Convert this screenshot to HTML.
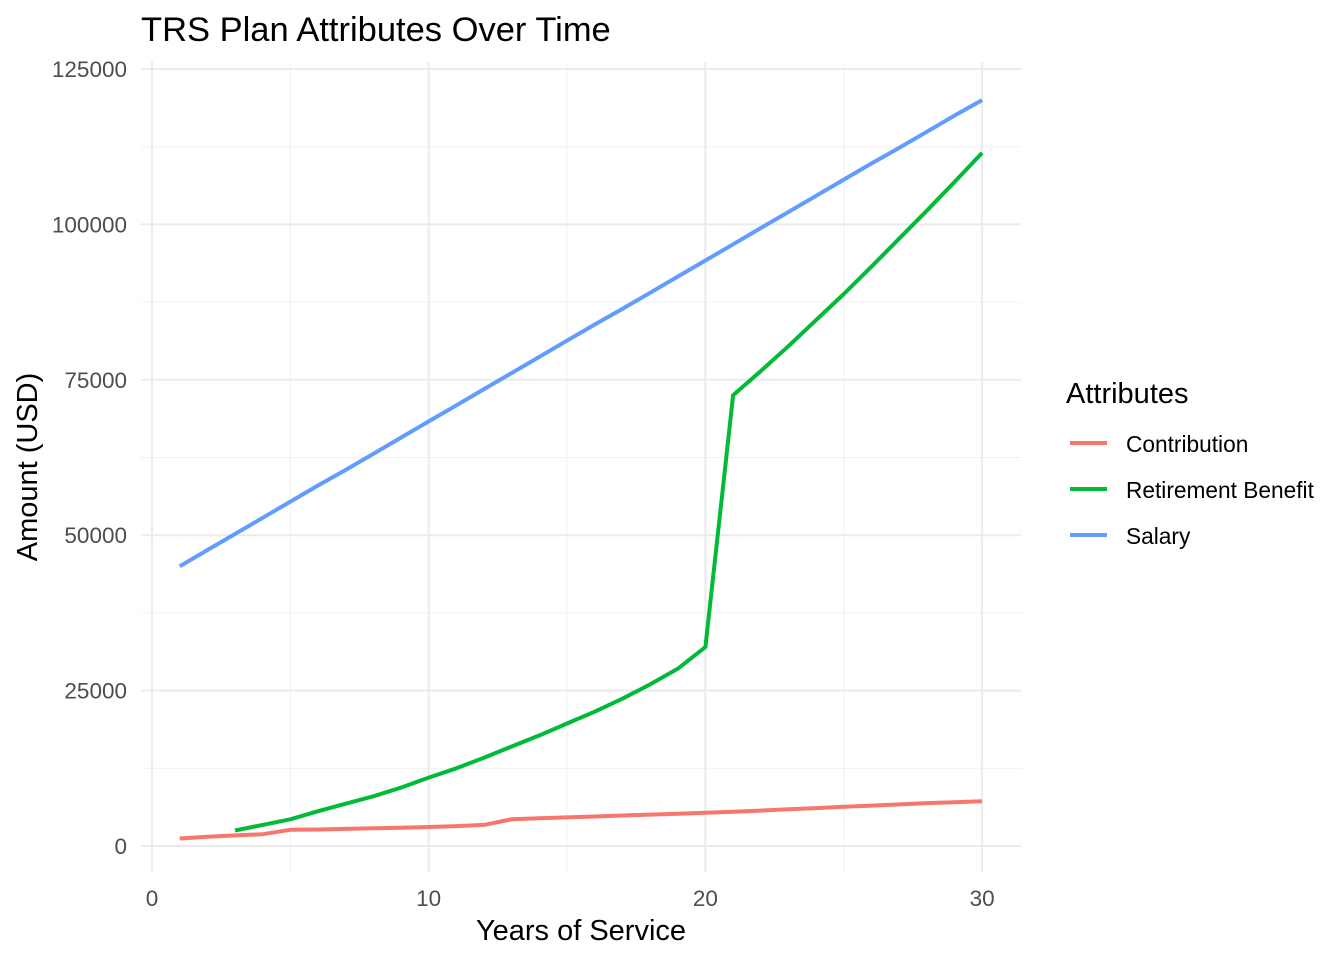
<!DOCTYPE html>
<html><head><meta charset="utf-8"><style>
html,body{margin:0;padding:0;background:#fff;}
svg{display:block;font-family:"Liberation Sans",Arial,sans-serif;}
</style></head><body>
<svg id="chart" width="1344" height="960" viewBox="0 0 1344 960">
<text x="141" y="41" font-size="34.5" fill="#000">TRS Plan Attributes Over Time</text>
<g id="grid"></g>
<g id="axes"></g>
<g id="lines"></g>
<text x="581" y="940" font-size="29" text-anchor="middle" fill="#000">Years of Service</text>
<text transform="translate(37,467) rotate(-90)" font-size="29" text-anchor="middle" fill="#000">Amount (USD)</text>
<g>
<text x="1066" y="403" font-size="29" fill="#000">Attributes</text>
<g><line x1="1070" x2="1107" y1="443" y2="443" stroke="#F8766D" stroke-width="4"/><text x="1126" y="452" font-size="22.7" fill="#000">Contribution</text></g>
<g><line x1="1070" x2="1107" y1="489" y2="489" stroke="#00BA38" stroke-width="4"/><text x="1126" y="498" font-size="22.7" fill="#000">Retirement Benefit</text></g>
<g><line x1="1070" x2="1107" y1="535" y2="535" stroke="#619CFF" stroke-width="4"/><text x="1126" y="544" font-size="22.7" fill="#000">Salary</text></g>
</g>
</svg>
<script>
const years = [1,2,3,4,5,6,7,8,9,10,11,12,13,14,15,16,17,18,19,20,21,22,23,24,25,26,27,28,29,30];
const contribution = [1200,1500,1700,1900,2600,2650,2750,2850,2950,3050,3200,3400,4300,4450,4600,4750,4900,5050,5200,5350,5500,5700,5900,6100,6300,6500,6700,6900,7050,7200];
const benefitYears = [3,4,5,6,7,8,9,10,11,12,13,14,15,16,17,18,19,20,21,22,23,24,25,26,27,28,29,30];
const benefit = [2500,3400,4300,5600,6800,8000,9400,11000,12500,14200,16000,17800,19700,21600,23700,26000,28500,32000,72500,76400,80400,84600,88800,93200,97700,102200,106800,111500];
const salary = [45000,47600,50200,52800,55400,58000,60500,63100,65700,68300,70900,73500,76100,78700,81300,83900,86400,89000,91600,94200,96800,99400,102000,104600,107200,109800,112300,114900,117500,120000];
const xTicks = [0,10,20,30];
const xMinor = [5,15,25];
const yTicks = [0,25000,50000,75000,100000,125000];
const yMinor = [12500,37500,62500,87500,112500];

const NS = "http://www.w3.org/2000/svg";
const X = v => 152 + (v/10)*276.7;
const Y = v => 846 - v*0.006216;
const PL=141, PR=1021, PT=62, PB=872;
function mk(tag, attrs, parent){const e=document.createElementNS(NS,tag);for(const k in attrs)e.setAttribute(k,attrs[k]);parent.appendChild(e);return e;}
const grid=document.getElementById('grid'), axes=document.getElementById('axes'), lines=document.getElementById('lines');
yMinor.forEach(v=>{const l=mk('line',{x1:PL,x2:PR,y1:Y(v),y2:Y(v),stroke:'#f0f0f0','stroke-width':1},grid);

});
xMinor.forEach(v=>{const l=mk('line',{x1:X(v),x2:X(v),y1:PT,y2:PB,stroke:'#f0f0f0','stroke-width':1},grid);

});
yTicks.forEach(v=>{const l=mk('line',{x1:PL,x2:PR,y1:Y(v),y2:Y(v),stroke:'#ebebeb','stroke-width':2},grid);


const t=mk('text',{x:127,y:Y(v)+8,'font-size':22.5,'text-anchor':'end',fill:'#4d4d4d'},axes);t.textContent=String(v);

});
xTicks.forEach(v=>{const l=mk('line',{x1:X(v),x2:X(v),y1:PT,y2:PB,stroke:'#ebebeb','stroke-width':2},grid);


const t=mk('text',{x:X(v),y:906,'font-size':22.5,'text-anchor':'middle',fill:'#4d4d4d'},axes);t.textContent=String(v);

});
function path(xs,ys,color,name){const d=xs.map((x,i)=>(i?'L':'M')+X(x).toFixed(1)+' '+Y(ys[i]).toFixed(1)).join(' ');
const p=mk('path',{d:d,fill:'none',stroke:color,'stroke-width':4,'stroke-linejoin':'round'},lines);

}
path(years,contribution,'#F8766D','contribution-line');
path(benefitYears,benefit,'#00BA38','retirement-benefit-line');
path(years,salary,'#619CFF','salary-line');
</script>
</body></html>
